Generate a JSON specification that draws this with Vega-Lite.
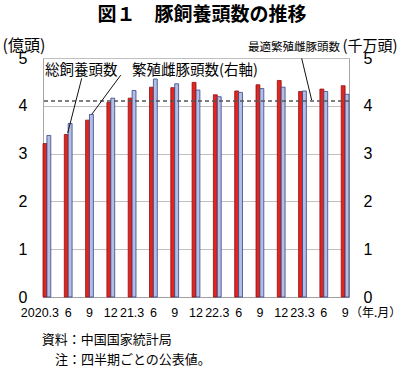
{
  "$schema": "https://vega.github.io/schema/vega-lite/v6.json",
  "width": 306,
  "height": 239,
  "autosize": {"type": "none"},
  "padding": {"left": 43, "top": 58, "right": 51, "bottom": 70},
  "background": "white",
  "config": {"view": {"stroke": "#a6a6a6", "strokeWidth": 1}},
  "title": {"text": "図１　豚飼養頭数の推移", "font": "Noto Sans CJK JP", "fontSize": 19, "fontWeight": "bold", "color": "#000", "anchor": "middle", "dx": 6, "offset": 12},
  "layer": [
    {
      "data": {"values": [
        {"date": "2020.3", "series": "総飼養頭数", "value": 3.21},
        {"date": "2020.6", "series": "総飼養頭数", "value": 3.40},
        {"date": "2020.9", "series": "総飼養頭数", "value": 3.70},
        {"date": "2020.12", "series": "総飼養頭数", "value": 4.07},
        {"date": "2021.3", "series": "総飼養頭数", "value": 4.16},
        {"date": "2021.6", "series": "総飼養頭数", "value": 4.39},
        {"date": "2021.9", "series": "総飼養頭数", "value": 4.38},
        {"date": "2021.12", "series": "総飼養頭数", "value": 4.49},
        {"date": "2022.3", "series": "総飼養頭数", "value": 4.23},
        {"date": "2022.6", "series": "総飼養頭数", "value": 4.31},
        {"date": "2022.9", "series": "総飼養頭数", "value": 4.44},
        {"date": "2022.12", "series": "総飼養頭数", "value": 4.53},
        {"date": "2023.3", "series": "総飼養頭数", "value": 4.30},
        {"date": "2023.6", "series": "総飼養頭数", "value": 4.35},
        {"date": "2023.9", "series": "総飼養頭数", "value": 4.42},
        {"date": "2020.3", "series": "繁殖雌豚頭数", "value": 3.38},
        {"date": "2020.6", "series": "繁殖雌豚頭数", "value": 3.63},
        {"date": "2020.9", "series": "繁殖雌豚頭数", "value": 3.82},
        {"date": "2020.12", "series": "繁殖雌豚頭数", "value": 4.16},
        {"date": "2021.3", "series": "繁殖雌豚頭数", "value": 4.32},
        {"date": "2021.6", "series": "繁殖雌豚頭数", "value": 4.56},
        {"date": "2021.9", "series": "繁殖雌豚頭数", "value": 4.46},
        {"date": "2021.12", "series": "繁殖雌豚頭数", "value": 4.33},
        {"date": "2022.3", "series": "繁殖雌豚頭数", "value": 4.19},
        {"date": "2022.6", "series": "繁殖雌豚頭数", "value": 4.28},
        {"date": "2022.9", "series": "繁殖雌豚頭数", "value": 4.36},
        {"date": "2022.12", "series": "繁殖雌豚頭数", "value": 4.39},
        {"date": "2023.3", "series": "繁殖雌豚頭数", "value": 4.31},
        {"date": "2023.6", "series": "繁殖雌豚頭数", "value": 4.30},
        {"date": "2023.9", "series": "繁殖雌豚頭数", "value": 4.24}
      ]},
      "mark": {"type": "bar", "strokeWidth": 0.8},
      "encoding": {
        "x": {"field": "date", "type": "nominal", "sort": null,
              "scale": {"paddingInner": 0.634, "paddingOuter": 0},
              "axis": {"orient": "bottom", "title": null, "labelAngle": 0,
                       "labelExpr": "datum.value == '2020.3' ? '2020.3' : (slice(datum.value, 5) == '3' ? slice(datum.value, 2) : slice(datum.value, 5))",
                       "labelFont": "Liberation Sans", "labelFontSize": 12.5, "labelColor": "#000", "labelPadding": 9,
                       "labelOffset": {"condition": {"test": "datum.value == '2020.3'", "value": -7}, "value": 0},
                       "labelOverlap": false, "ticks": false, "domain": true, "domainColor": "#a0a0a0", "grid": false}},
        "xOffset": {"field": "series", "type": "nominal", "sort": ["総飼養頭数", "繁殖雌豚頭数"], "scale": {"paddingInner": 0, "paddingOuter": 0}},
        "y": {"field": "value", "type": "quantitative",
              "scale": {"domain": [0, 5], "nice": false},
              "axis": {"orient": "left", "values": [0, 1, 2, 3, 4, 5], "title": "(億頭)", "titleAngle": 0,
                       "titleAlign": "left", "titleBaseline": "middle", "titleX": -41, "titleY": -13,
                       "titleFont": "Noto Sans CJK JP", "titleFontSize": 16, "titleFontWeight": "normal", "titleColor": "#000",
                       "labelFont": "Liberation Sans", "labelFontSize": 16, "labelColor": "#000", "labelPadding": 16,
                       "ticks": false, "domain": false, "grid": true, "gridColor": "#c0c0c0"}},
        "fill": {"field": "series", "type": "nominal", "scale": {"domain": ["総飼養頭数", "繁殖雌豚頭数"], "range": ["#e0261f", "#b4bde2"]}, "legend": null},
        "stroke": {"field": "series", "type": "nominal", "scale": {"domain": ["総飼養頭数", "繁殖雌豚頭数"], "range": ["#8e1010", "#34448a"]}, "legend": null}
      }
    },
    {
      "data": {"values": [{}]},
      "mark": {"type": "rule", "strokeDash": [4, 3], "color": "#555555", "strokeWidth": 1.3},
      "encoding": {
        "y": {"datum": 4.1, "type": "quantitative",
              "scale": {"domain": [0, 5], "nice": false},
              "axis": {"orient": "right", "values": [0, 1, 2, 3, 4, 5], "title": "(千万頭)", "titleAngle": 0,
                       "titleAlign": "left", "titleBaseline": "middle", "titleX": -7, "titleY": -13,
                       "titleFont": "Noto Sans CJK JP", "titleFontSize": 15, "titleFontWeight": "normal", "titleColor": "#000",
                       "labelFont": "Liberation Sans", "labelFontSize": 16, "labelColor": "#000", "labelPadding": 14,
                       "ticks": false, "domain": false, "grid": false}}
      }
    },
    {
      "data": {"values": [{}]},
      "layer": [
        {
          "mark": {"type": "text", "text": "総飼養頭数", "align": "left", "baseline": "middle", "font": "Noto Sans CJK JP", "fontSize": 14.5, "color": "#000"},
          "encoding": {
            "x": {"datum": -0.09, "type": "quantitative", "scale": {"domain": [-0.183, 14.183], "nice": false, "zero": false},
                  "axis": {"orient": "bottom", "values": [0.5, 1.5, 2.5, 3.5, 4.5, 5.5, 6.5, 7.5, 8.5, 9.5, 10.5, 11.5, 12.5, 13.5],
                           "labels": false, "domain": false, "ticks": true, "tickSize": 4, "tickWidth": 1, "tickColor": "#909090", "title": null, "grid": false,
                           "translate": -4}},
            "y": {"datum": 4.73, "type": "quantitative", "scale": {"domain": [0, 5], "nice": false}, "axis": null}
          }
        },
        {
          "mark": {"type": "text", "text": "繁殖雌豚頭数(右軸)", "align": "left", "baseline": "middle", "font": "Noto Sans CJK JP", "fontSize": 14.5, "color": "#000"},
          "encoding": {
            "x": {"datum": 4.0, "type": "quantitative", "axis": null},
            "y": {"datum": 4.73, "type": "quantitative", "axis": null}
          }
        },
        {
          "mark": {"type": "text", "text": "最適繁殖雌豚頭数", "align": "left", "baseline": "middle", "font": "Noto Sans CJK JP", "fontSize": 11.5, "color": "#000"},
          "encoding": {
            "x": {"datum": 9.44, "type": "quantitative", "axis": null},
            "y": {"datum": 5.2, "type": "quantitative", "axis": null}
          }
        },
        {
          "mark": {"type": "text", "text": "（年.月）", "align": "left", "baseline": "middle", "font": "Noto Sans CJK JP", "fontSize": 12, "color": "#000"},
          "encoding": {
            "x": {"datum": 14.23, "type": "quantitative", "axis": null},
            "y": {"datum": -0.335, "type": "quantitative", "axis": null}
          }
        },
        {
          "mark": {"type": "text", "text": "資料：中国国家統計局", "align": "left", "baseline": "middle", "font": "Noto Sans CJK JP", "fontSize": 13, "color": "#000"},
          "encoding": {
            "x": {"datum": -0.244, "type": "quantitative", "axis": null},
            "y": {"datum": -0.9, "type": "quantitative", "axis": null}
          }
        },
        {
          "mark": {"type": "text", "text": "注：四半期ごとの公表値。", "align": "left", "baseline": "middle", "font": "Noto Sans CJK JP", "fontSize": 13, "color": "#000"},
          "encoding": {
            "x": {"datum": 0.38, "type": "quantitative", "axis": null},
            "y": {"datum": -1.318, "type": "quantitative", "axis": null}
          }
        },
        {
          "mark": {"type": "rule", "stroke": "#111111", "strokeWidth": 1},
          "encoding": {
            "x": {"datum": 1.634, "type": "quantitative", "axis": null},
            "y": {"datum": 4.575, "type": "quantitative", "axis": null},
            "x2": {"datum": 0.977},
            "y2": {"datum": 3.43}
          }
        },
        {
          "mark": {"type": "rule", "stroke": "#111111", "strokeWidth": 1},
          "encoding": {
            "x": {"datum": 3.465, "type": "quantitative", "axis": null},
            "y": {"datum": 4.64, "type": "quantitative", "axis": null},
            "x2": {"datum": 2.103},
            "y2": {"datum": 3.82}
          }
        },
        {
          "mark": {"type": "rule", "stroke": "#111111", "strokeWidth": 1},
          "encoding": {
            "x": {"datum": 11.963, "type": "quantitative", "axis": null},
            "y": {"datum": 4.99, "type": "quantitative", "axis": null},
            "x2": {"datum": 12.43},
            "y2": {"datum": 4.12}
          }
        }
      ]
    }
  ],
  "resolve": {"scale": {"x": "independent", "y": "independent"}, "axis": {"x": "independent", "y": "independent"}}
}
